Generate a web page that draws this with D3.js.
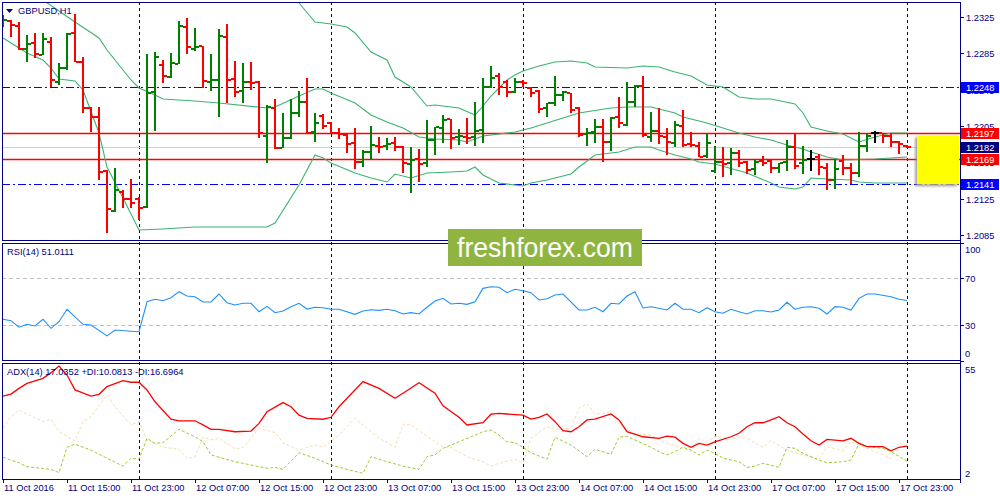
<!DOCTYPE html>
<html><head><meta charset="utf-8">
<script src="https://cdn.jsdelivr.net/npm/d3@7"></script>
<style>
html,body{margin:0;padding:0;background:#fff;}
svg{display:block;}
text{font-family:"Liberation Sans",Arial,sans-serif;}
</style></head><body>
<svg id="c" width="1000" height="500"></svg>
<script>
// ---------------- DATA ----------------
const symbolTitle = "GBPUSD,H1";
const rsiTitle = "RSI(14) 51.0111";
const adxTitle = "ADX(14) 17.0352 +DI:10.0813 -DI:16.6964";

// H1 bars, 11 Oct 2016 07:00 .. 18 Oct 2016 00:00 (114 bars)
const openP = [1.23162,1.23206,1.23151,1.22898,1.22964,1.22832,1.22975,1.22535,1.22689,1.23074,
1.22755,1.22249,1.22150,1.21556,1.21116,1.21325,1.21248,1.21248,1.21160,1.22425,
1.22722,1.22590,1.22733,1.23140,1.22898,1.22931,1.22535,1.22557,1.23030,1.22568,
1.22436,1.22535,1.22535,1.21941,1.22249,1.21809,1.21919,1.22194,1.22315,1.21985,
1.22161,1.22084,1.21974,1.21952,1.21864,1.21655,1.21765,1.21831,1.21831,1.21864,
1.21820,1.21633,1.21688,1.21644,1.21897,1.22029,1.22128,1.21930,1.21930,1.21930,
1.22007,1.22480,1.22601,1.22535,1.22425,1.22535,1.22469,1.22436,1.22249,1.22304,
1.22392,1.22414,1.22249,1.21963,1.21985,1.22040,1.21875,1.22150,1.22062,1.22315,
1.22491,1.21930,1.21996,1.21930,1.21864,1.22051,1.21853,1.21831,1.21721,1.21556,
1.21655,1.21644,1.21754,1.21655,1.21578,1.21666,1.21666,1.21589,1.21655,1.21820,
1.21644,1.21688,1.21710,1.21589,1.21457,1.21666,1.21589,1.21534,1.21831,1.21974,
1.21974,1.21941,1.21875,1.21831];
const highP = [1.23272,1.23217,1.23195,1.23052,1.23074,1.23074,1.23030,1.22744,1.23074,1.23283,
1.22810,1.22260,1.22260,1.21567,1.21589,1.21347,1.21468,1.21270,1.22843,1.22865,
1.22777,1.22854,1.23206,1.23239,1.23129,1.22931,1.22843,1.23118,1.23173,1.22766,
1.22744,1.22755,1.22546,1.22282,1.22348,1.22194,1.22348,1.22436,1.22579,1.22194,
1.22183,1.22095,1.22029,1.21963,1.22029,1.21787,1.22051,1.21930,1.21919,1.21930,
1.21831,1.21820,1.21798,1.22117,1.22040,1.22172,1.22128,1.22018,1.22139,1.22315,
1.22579,1.22711,1.22634,1.22557,1.22579,1.22557,1.22480,1.22447,1.22304,1.22601,
1.22436,1.22414,1.22260,1.22029,1.22128,1.22128,1.22150,1.22370,1.22535,1.22502,
1.22601,1.22205,1.22249,1.22029,1.22106,1.22227,1.21985,1.21875,1.21974,1.21831,
1.21820,1.21809,1.21787,1.21666,1.21688,1.21721,1.21677,1.21644,1.21897,1.21974,
1.21831,1.21787,1.21743,1.21644,1.21688,1.21732,1.21644,1.21985,1.21974,1.21996,
1.21974,1.21974,1.21886,1.21842];
const lowP = [1.23140,1.23030,1.22887,1.22755,1.22799,1.22832,1.22480,1.22502,1.22667,1.22755,
1.22194,1.21985,1.21457,1.20874,1.21105,1.21149,1.21149,1.21017,1.21149,1.21996,
1.22524,1.22579,1.22733,1.22843,1.22876,1.22469,1.22436,1.22150,1.22304,1.22370,
1.22304,1.22447,1.21919,1.21644,1.21798,1.21809,1.21908,1.22150,1.21974,1.21875,
1.22018,1.21963,1.21908,1.21754,1.21578,1.21600,1.21688,1.21754,1.21787,1.21776,
1.21534,1.21314,1.21435,1.21600,1.21732,1.21864,1.21798,1.21842,1.21853,1.21831,
1.21864,1.22469,1.22392,1.22370,1.22414,1.22480,1.22370,1.22194,1.22150,1.22271,
1.22326,1.22194,1.21930,1.21831,1.21864,1.21655,1.21776,1.22029,1.22051,1.22260,
1.21930,1.21875,1.21853,1.21732,1.21820,1.21820,1.21820,1.21710,1.21699,1.21534,
1.21490,1.21512,1.21600,1.21523,1.21512,1.21611,1.21534,1.21534,1.21556,1.21578,
1.21523,1.21556,1.21512,1.21347,1.21358,1.21512,1.21413,1.21490,1.21765,1.21864,
1.21864,1.21820,1.21743,1.21809];
const closeP = [1.23217,1.23162,1.22898,1.22953,1.22843,1.23008,1.22557,1.22689,1.23063,1.22755,
1.22249,1.22150,1.21545,1.21138,1.21347,1.21248,1.21204,1.21149,1.22414,1.22810,
1.22601,1.22744,1.23151,1.22920,1.22920,1.22546,1.22557,1.23041,1.22557,1.22425,
1.22535,1.22524,1.21974,1.22260,1.21809,1.21919,1.22194,1.22315,1.21974,1.22084,
1.22051,1.21974,1.21963,1.21853,1.21655,1.21765,1.21842,1.21820,1.21853,1.21820,
1.21644,1.21677,1.21633,1.21897,1.22040,1.22117,1.21919,1.21941,1.21919,1.21996,
1.22480,1.22579,1.22480,1.22425,1.22535,1.22524,1.22414,1.22238,1.22304,1.22392,
1.22425,1.22227,1.21952,1.21974,1.22040,1.21875,1.22139,1.22084,1.22315,1.22491,
1.21952,1.21996,1.21941,1.21875,1.22062,1.21842,1.21842,1.21710,1.21864,1.21655,
1.21633,1.21754,1.21644,1.21567,1.21655,1.21644,1.21589,1.21644,1.21820,1.21611,
1.21677,1.21688,1.21600,1.21457,1.21578,1.21589,1.21534,1.21831,1.21941,1.21974,
1.21941,1.21875,1.21853,1.21820];

// Bollinger Bands (bar index, price) read at the turning points
const bbUpper = [[0,1.24317],[18,1.24097],[36,1.23492],[37,1.23404],[39,1.23195],[40,1.23184],[41,1.23173],[43,1.23140],[44,1.23074],[46,1.22865],[48,1.22777],[49,1.22590],[51,1.22480],[53,1.22271],[54,1.22282],[57,1.22249],[59,1.22172],[60,1.22271],[61,1.22381],[62,1.22469],[63,1.22557],[64,1.22612],[65,1.22656],[67,1.22711],[69,1.22755],[71,1.22766],[73,1.22744],[74,1.22700],[78,1.22689],[80,1.22711],[82,1.22700],[84,1.22645],[86,1.22601],[88,1.22502],[90,1.22480],[92,1.22370],[94,1.22348],[96,1.22348],[99,1.22293],[100,1.22194],[101,1.22040],[103,1.21996],[105,1.21963],[107,1.21875],[109,1.21930],[111,1.21974],[113,1.21974]];
const bbMiddle = [[0,1.23723],[5,1.23437],[9,1.23195],[12,1.23019],[13,1.22887],[16,1.22557],[17,1.22469],[19,1.22392],[20,1.22348],[24,1.22326],[27,1.22304],[33,1.22249],[34,1.22260],[37,1.22381],[39,1.22458],[40,1.22458],[41,1.22414],[44,1.22304],[46,1.22172],[48,1.22095],[50,1.22029],[52,1.21930],[54,1.21908],[57,1.21897],[58,1.21875],[60,1.21941],[64,1.21985],[66,1.22029],[68,1.22084],[72,1.22194],[76,1.22249],[78,1.22260],[81,1.22260],[84,1.22194],[85,1.22150],[88,1.22084],[90,1.22029],[92,1.21974],[94,1.21930],[96,1.21897],[98,1.21842],[100,1.21798],[101,1.21765],[103,1.21710],[105,1.21677],[109,1.21688],[113,1.21710]];
const bbLower = [[0,1.23019],[3,1.22854],[5,1.22777],[6,1.22689],[7,1.22568],[9,1.22546],[10,1.22447],[12,1.21974],[13,1.21600],[15,1.21259],[17,1.20907],[20,1.20918],[24,1.20940],[33,1.20940],[34,1.20984],[37,1.21402],[39,1.21732],[40,1.21699],[41,1.21644],[44,1.21534],[46,1.21479],[48,1.21435],[49,1.21523],[51,1.21479],[53,1.21534],[56,1.21545],[58,1.21556],[59,1.21600],[60,1.21512],[62,1.21424],[64,1.21402],[65,1.21391],[66,1.21424],[68,1.21457],[71,1.21523],[72,1.21600],[74,1.21732],[76,1.21754],[77,1.21765],[79,1.21820],[81,1.21820],[82,1.21787],[84,1.21732],[86,1.21688],[87,1.21655],[89,1.21633],[93,1.21534],[96,1.21424],[97,1.21380],[99,1.21358],[100,1.21380],[101,1.21479],[103,1.21468],[106,1.21457],[107,1.21435],[109,1.21424],[113,1.21424]];

// RSI(14) (bar index, value)
const rsi = [[0,35.1],[1,33.9],[2,28.3],[3,30.8],[4,29.4],[5,35.1],[6,27.4],[7,33.0],[8,43.6],[10,30.8],[11,30.2],[13,20.9],[14,26.0],[16,24.9],[17,24.5],[18,50.0],[19,52.1],[20,50.9],[21,53.4],[22,58.6],[23,54.9],[24,54.3],[25,49.8],[26,49.8],[27,56.6],[28,49.2],[29,47.2],[30,48.7],[31,48.7],[32,41.5],[33,46.1],[34,40.7],[35,42.1],[36,45.8],[37,48.7],[38,43.8],[39,45.3],[40,44.9],[41,43.6],[42,43.6],[44,39.3],[45,42.1],[46,43.2],[47,42.7],[48,43.6],[49,42.4],[50,39.6],[51,40.7],[52,39.6],[53,45.3],[54,50.6],[55,52.9],[56,48.1],[57,48.7],[58,47.8],[59,50.0],[60,61.4],[61,62.8],[62,62.3],[63,57.7],[64,60.6],[65,59.4],[66,57.7],[67,51.5],[68,52.6],[69,55.7],[70,56.6],[72,43.0],[73,43.0],[74,45.3],[75,41.5],[76,48.7],[77,48.1],[78,54.9],[79,58.6],[80,44.7],[81,45.8],[83,43.0],[84,48.7],[85,43.6],[86,43.6],[87,40.7],[88,44.9],[89,41.5],[90,40.2],[91,43.6],[92,41.5],[93,39.6],[94,42.4],[95,42.4],[96,41.3],[97,43.0],[98,49.5],[99,43.6],[100,45.3],[101,45.8],[102,44.4],[103,39.6],[104,45.8],[105,45.3],[106,43.0],[107,52.9],[108,56.6],[109,56.6],[111,54.3],[112,52.1],[113,51.0]];
const rsiLevels = [70, 30];
const rsiAxisTicks = [100, 70, 30, 0];

// ADX(14), +DI, -DI (bar index, value)
const adxMain = [[0,39.9],[1,40.8],[2,43.4],[3,45.7],[5,48.0],[6,50.6],[7,53.6],[8,49.5],[9,42.7],[11,39.9],[12,40.7],[13,44.2],[15,46.9],[16,46.2],[17,46.2],[18,42.7],[19,37.3],[21,29.3],[22,28.6],[24,28.6],[25,26.7],[26,24.7],[27,24.7],[29,23.6],[31,23.9],[32,27.4],[33,32.7],[35,36.9],[36,35.0],[37,31.2],[38,29.7],[40,29.3],[41,30.2],[42,35.0],[45,46.5],[47,43.4],[49,38.9],[50,41.2],[52,46.0],[54,41.2],[55,35.4],[57,30.2],[58,26.7],[60,27.7],[61,31.6],[62,32.0],[63,31.7],[65,31.2],[66,29.4],[67,30.2],[68,31.7],[69,28.2],[70,24.1],[71,23.6],[72,25.9],[73,29.0],[74,29.4],[76,31.7],[77,29.0],[78,23.6],[80,21.3],[82,20.6],[83,21.6],[84,21.1],[85,18.3],[86,16.5],[87,18.3],[88,17.5],[89,19.0],[91,21.3],[92,22.9],[93,25.9],[94,27.7],[95,27.7],[96,29.0],[97,30.5],[98,27.7],[99,25.9],[100,22.6],[101,19.5],[102,17.5],[103,20.1],[105,19.4],[106,20.6],[107,18.3],[108,16.8],[110,16.8],[111,14.9],[112,16.5],[113,17.0]];
const plusDI = [[0,11.9],[2,9.4],[3,7.6],[6,6.4],[7,4.9],[8,16.5],[9,17.9],[11,15.2],[13,11.5],[15,7.9],[16,11.5],[17,11.0],[18,20.6],[19,18.3],[20,18.6],[22,24.7],[24,21.3],[25,19.0],[26,13.0],[29,9.9],[31,8.4],[33,6.9],[34,7.3],[35,6.4],[37,14.0],[39,11.5],[41,8.4],[43,6.4],[45,4.6],[46,12.2],[48,9.9],[50,7.9],[52,6.4],[53,12.2],[54,13.0],[55,16.0],[57,19.0],[60,23.6],[61,24.4],[62,22.1],[63,19.0],[64,18.6],[65,16.5],[66,14.0],[68,11.0],[69,21.1],[71,17.5],[73,12.2],[74,15.6],[76,13.3],[77,21.1],[78,21.6],[79,19.8],[81,16.5],[82,14.5],[83,13.0],[84,14.5],[85,16.5],[86,15.2],[87,13.0],[88,15.2],[89,13.7],[90,11.5],[92,9.9],[93,7.3],[94,7.9],[95,9.2],[97,7.3],[98,16.5],[99,16.0],[100,13.7],[102,10.7],[103,9.4],[105,9.9],[106,10.7],[107,18.3],[108,16.8],[110,16.0],[111,14.5],[113,10.1]];
const minusDI = [[0,25.2],[1,30.5],[2,33.5],[3,31.7],[5,28.2],[6,29.3],[7,23.6],[9,19.5],[10,28.2],[11,30.5],[13,40.4],[14,35.0],[16,26.7],[17,28.2],[18,19.8],[20,16.5],[22,15.6],[23,11.5],[24,11.9],[25,21.1],[26,19.8],[27,20.6],[29,15.6],[30,16.5],[32,25.2],[34,23.2],[35,18.6],[37,15.2],[39,17.5],[40,16.5],[42,22.1],[44,29.7],[45,26.7],[47,20.6],[49,16.5],[50,27.1],[51,26.7],[53,21.6],[55,16.5],[56,16.5],[58,12.2],[60,9.9],[61,7.9],[62,9.2],[64,11.0],[65,9.2],[66,20.6],[68,25.9],[69,24.7],[71,25.2],[72,34.3],[73,36.3],[74,31.7],[76,32.3],[77,27.1],[79,22.6],[81,22.1],[83,18.1],[85,16.3],[86,14.5],[87,20.6],[88,18.6],[89,21.6],[91,20.1],[92,21.2],[93,20.6],[95,16.5],[96,19.5],[98,15.2],[100,13.0],[102,11.0],[103,16.8],[105,14.9],[106,19.0],[108,16.0],[110,13.0],[111,11.5],[112,18.6],[113,16.7]];
const adxAxisTicks = [55, 2];

// price scale ticks and marked levels
const priceTicks = [1.2325, 1.2285, 1.2245, 1.2205, 1.2165, 1.2125, 1.2085];
const blueLevels = [1.2248, 1.2141];
const redLevels = [1.2197, 1.2169];
const bidLevel = 1.2182;
const targetZone = [1.2141, 1.2197];

// time axis
const timeLabels = ["11 Oct 2016","11 Oct 15:00","11 Oct 23:00","12 Oct 07:00","12 Oct 15:00","12 Oct 23:00","13 Oct 07:00","13 Oct 15:00","13 Oct 23:00","14 Oct 07:00","14 Oct 15:00","14 Oct 23:00","17 Oct 07:00","17 Oct 15:00","17 Oct 23:00"];
const timeLabelBars = [0,8,16,24,32,40,48,56,64,72,80,88,96,104,112];
const dayStartBars = [17,41,65,89,113];

// ---------------- DRAW ----------------
const NAVY = "#000080";
const svg = d3.select("#c");
const L = 2, R = 960;
const main = {t:2, b:240}, rsiP = {t:243, b:360}, adxP = {t:363, b:479};

const x = d3.scaleLinear().domain([0, 113]).range([3, 907]);
const y = d3.scaleLinear().domain([1.2085, 1.2325]).range([235.2, 17]);
const yR = d3.scaleLinear().domain([0, 100]).range([360.5, 243]);
const yA = d3.scaleLinear().domain([2, 55]).range([479, 363]);

const defs = svg.append("defs");
[["cm",main],["cr",rsiP],["ca",adxP]].forEach(([id,p])=>{
  defs.append("clipPath").attr("id",id).append("rect")
    .attr("x",L).attr("y",p.t).attr("width",R-L).attr("height",p.b-p.t);
});
const flt = defs.append("filter").attr("id","sh").attr("x","-20%").attr("y","-20%").attr("width","140%").attr("height","140%");
flt.append("feDropShadow").attr("dx",-2).attr("dy",2).attr("stdDeviation",1.2).attr("flood-color","#808080").attr("flood-opacity",0.7);

svg.append("rect").attr("width",1000).attr("height",500).attr("fill","#fff");

// vertical day separators
svg.append("g").selectAll("line").data(dayStartBars).join("line")
  .attr("x1",d=>Math.round(x(d))+0.5).attr("x2",d=>Math.round(x(d))+0.5)
  .attr("y1",main.t).attr("y2",adxP.b)
  .attr("stroke",NAVY).attr("stroke-width",1).attr("stroke-dasharray","3,3");

// RSI levels
svg.append("g").selectAll("line").data(rsiLevels).join("line")
  .attr("x1",L).attr("x2",R).attr("y1",d=>Math.round(yR(d))+0.5).attr("y2",d=>Math.round(yR(d))+0.5)
  .attr("stroke","#c0c0c0").attr("stroke-dasharray","4,3");

// ---- main panel ----
const gm = svg.append("g").attr("clip-path","url(#cm)");
// bid line
gm.append("line").attr("x1",L).attr("x2",R).attr("y1",Math.round(y(bidLevel))+0.5).attr("y2",Math.round(y(bidLevel))+0.5)
  .attr("stroke","#d0d0d0");
// blue dash-dot levels
gm.selectAll(".bl").data(blueLevels).join("line")
  .attr("x1",L).attr("x2",R).attr("y1",d=>Math.round(y(d))+0.5).attr("y2",d=>Math.round(y(d))+0.5)
  .attr("stroke","#0000ff").attr("stroke-dasharray","8,3,2,3");
// red levels
gm.selectAll(".rl").data(redLevels).join("line")
  .attr("x1",L).attr("x2",R).attr("y1",d=>Math.round(y(d))+0.5).attr("y2",d=>Math.round(y(d))+0.5)
  .attr("stroke","#ff0000").attr("stroke-width",1.3);

// Bollinger bands
const lineB = d3.line().x(d=>x(d[0])).y(d=>y(d[1]));
[bbUpper,bbMiddle,bbLower].forEach(b=>{
  gm.append("path").attr("d",lineB(b)).attr("fill","none").attr("stroke","#3cb371").attr("stroke-width",1.1);
});

// OHLC bars
const bars = d3.range(openP.length).map(i=>({i,o:openP[i],h:highP[i],l:lowP[i],c:closeP[i]}));
const col = d=> d.c>d.o ? "#008000" : (d.c<d.o ? "#ff0000" : "#000000");
const gb = gm.append("g").attr("shape-rendering","crispEdges");
gb.selectAll(".v").data(bars).join("rect")
  .attr("x",d=>Math.round(x(d.i))-1).attr("width",2)
  .attr("y",d=>Math.round(y(d.h))).attr("height",d=>Math.max(1,Math.round(y(d.l))-Math.round(y(d.h))))
  .attr("fill",col);
gb.selectAll(".o").data(bars).join("rect")
  .attr("x",d=>Math.round(x(d.i))-4).attr("width",3)
  .attr("y",d=>Math.round(y(d.o))-1).attr("height",2).attr("fill",col);
gb.selectAll(".cl").data(bars).join("rect")
  .attr("x",d=>Math.round(x(d.i))+1).attr("width",3)
  .attr("y",d=>Math.round(y(d.c))-1).attr("height",2).attr("fill",col);

// target zone (yellow)
svg.append("rect").attr("x",917).attr("width",42)
  .attr("y",y(targetZone[1])+2).attr("height",y(targetZone[0])-y(targetZone[1])-2)
  .attr("fill","#ffff00").attr("filter","url(#sh)");

// ---- RSI ----
const gr = svg.append("g").attr("clip-path","url(#cr)");
gr.append("path").attr("d",d3.line().x(d=>x(d[0])).y(d=>yR(d[1]))(rsi))
  .attr("fill","none").attr("stroke","#1e90ff").attr("stroke-width",1.1);

// ---- ADX ----
const ga = svg.append("g").attr("clip-path","url(#ca)");
const lineA = d3.line().x(d=>x(d[0])).y(d=>yA(d[1]));
ga.append("path").attr("d",lineA(minusDI)).attr("fill","none").attr("stroke","#f5deb3").attr("stroke-dasharray","3,2");
ga.append("path").attr("d",lineA(plusDI)).attr("fill","none").attr("stroke","#9acd32").attr("stroke-dasharray","3,2");
ga.append("path").attr("d",lineA(adxMain)).attr("fill","none").attr("stroke","#ff0000").attr("stroke-width",1.3);

// ---- frames ----
const fr = svg.append("g").attr("fill","none").attr("stroke",NAVY).attr("shape-rendering","crispEdges");
[main,rsiP,adxP].forEach(p=>{
  fr.append("rect").attr("x",L+0.5).attr("y",p.t+0.5).attr("width",R-L).attr("height",p.b-p.t);
});
fr.append("line").attr("x1",R+0.5).attr("x2",R+0.5).attr("y1",main.t).attr("y2",adxP.b+4);

// ---- price axis ----
const fs = 9.3;
const ax = svg.append("g").attr("font-size",fs).attr("fill",NAVY);
priceTicks.forEach(v=>{
  const yy = Math.round(y(v));
  ax.append("line").attr("x1",R).attr("x2",R+4).attr("y1",yy+0.5).attr("y2",yy+0.5).attr("stroke",NAVY);
  ax.append("text").attr("x",966).attr("y",yy+3.5).text(v.toFixed(4));
});
// highlighted price labels
const marks = [[blueLevels[0],"#0000ff"],[redLevels[0],"#ff0000"],[bidLevel,NAVY],[redLevels[1],"#ff0000"],[blueLevels[1],"#0000ff"]];
marks.forEach(([v,c])=>{
  const yy = y(v);
  svg.append("rect").attr("x",961).attr("y",Math.round(yy)-5).attr("width",38).attr("height",11).attr("fill",c);
  svg.append("text").attr("x",966).attr("y",Math.round(yy)+3.5).attr("font-size",fs).attr("fill","#fff").text(v.toFixed(4));
});

// RSI axis
rsiAxisTicks.forEach(v=>{
  const yy = Math.round(yR(v));
  const ty = Math.min(Math.max(yy, rsiP.t+6), rsiP.b-7);
  ax.append("line").attr("x1",R).attr("x2",R+4).attr("y1",yy+0.5).attr("y2",yy+0.5).attr("stroke",NAVY);
  ax.append("text").attr("x",965).attr("y",ty+3.5).text(v);
});
// ADX axis
adxAxisTicks.forEach(v=>{
  const yy = Math.round(yA(v));
  const ty = Math.min(Math.max(yy, adxP.t+6), adxP.b-6);
  ax.append("text").attr("x",965).attr("y",ty+3.5).text(v);
});

// time axis
timeLabels.forEach((t,k)=>{
  const xx = Math.round(x(timeLabelBars[k]));
  ax.append("line").attr("x1",xx+0.5).attr("x2",xx+0.5).attr("y1",adxP.b).attr("y2",adxP.b+4).attr("stroke",NAVY);
  ax.append("text").attr("x",xx+1).attr("y",491).text(t);
});

// panel titles
svg.append("path").attr("d","M6,9 L13,9 L9.5,13 Z").attr("fill",NAVY);
svg.append("text").attr("x",18).attr("y",14).attr("font-size",fs).attr("fill",NAVY).text(symbolTitle);
svg.append("text").attr("x",7).attr("y",255).attr("font-size",fs).attr("fill",NAVY).text(rsiTitle);
svg.append("text").attr("x",7).attr("y",375).attr("font-size",fs).attr("fill",NAVY).text(adxTitle);

// watermark
svg.append("rect").attr("x",448).attr("y",229).attr("width",194).attr("height",37).attr("fill","#8fb540");
svg.append("text").attr("x",545).attr("y",257).attr("text-anchor","middle")
  .attr("font-family","'Open Sans',sans-serif").attr("font-size",27).attr("fill","#fff")
  .attr("textLength",176).attr("lengthAdjust","spacingAndGlyphs").text("freshforex.com");
</script>
</body></html>
